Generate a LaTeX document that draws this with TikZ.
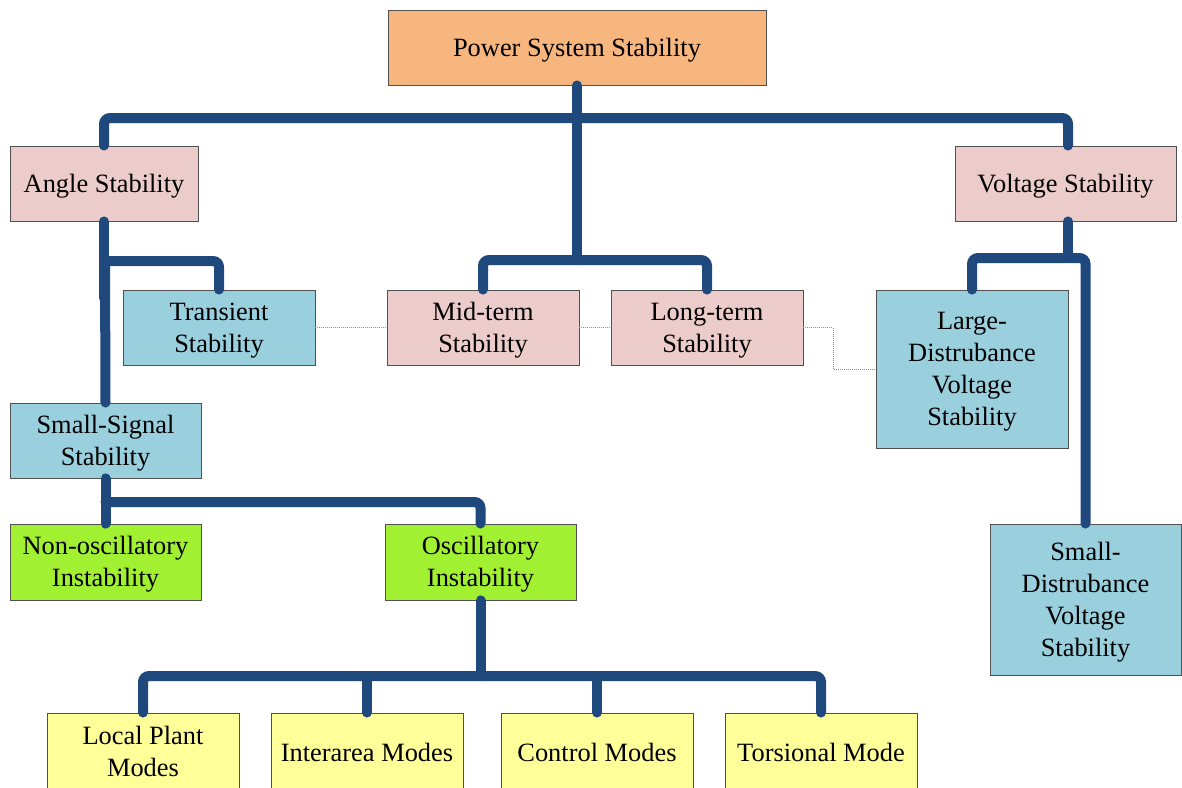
\documentclass[tikz,border=0pt]{standalone}
\usepackage{fontspec}
\setmainfont{Liberation Serif}
\definecolor{cOrange}{HTML}{F8B67F}
\definecolor{cPink}{HTML}{ECCCCB}
\definecolor{cBlue}{HTML}{9AD0DE}
\definecolor{cGreen}{HTML}{A2F032}
\definecolor{cYellow}{HTML}{FFFF99}
\definecolor{cLink}{HTML}{1F497D}
\definecolor{cEdge}{HTML}{505050}
% taller first line so stacked labels sit a little lower in their boxes
\newcommand{\firststrut}{\rule{0pt}{23.4pt}}
\begin{document}
\begin{tikzpicture}[x=1pt,y=-1pt,
  box/.style={draw=cEdge, line width=0.9pt, align=center, inner sep=0pt,
    font=\fontsize{26.4}{32}\selectfont,
    execute at begin node={\rule{0pt}{24.4pt}},
    execute at end node={\rule[-6pt]{0pt}{6pt}}},
  wide/.style={box, minimum width=192pt, minimum height=75pt},
  link/.style={draw=cLink, line width=10pt, line cap=round, rounded corners=6pt},
  dots/.style={draw=black!45, line width=0.8pt, dash pattern=on 1pt off 1pt}]
\clip (0,0) rectangle (1182,787);
\fill[white] (0,0) rectangle (1182,787);

% boxes
\node[box, fill=cOrange, minimum width=378pt, minimum height=75pt] (pss) at (577,47.5) {Power System Stability};
\node[box, fill=cPink, minimum width=188pt, minimum height=75pt] (ang) at (104,183.5) {Angle Stability};
\node[box, fill=cPink, minimum width=221pt, minimum height=75pt] (vol) at (1065.5,183.5) {Voltage Stability};
\node[wide, fill=cBlue] (tr) at (219,327.5) {\firststrut Transient\\Stability};
\node[wide, fill=cPink] (mid) at (483,327.5) {\firststrut Mid-term\\Stability};
\node[wide, fill=cPink] (lt) at (707,327.5) {\firststrut Long-term\\Stability};
\node[wide, fill=cBlue, minimum height=158pt] (ld) at (972,369) {\firststrut Large-\\Distrubance\\Voltage\\Stability};
\node[box, fill=cBlue, minimum width=191pt, minimum height=75pt] (ss) at (105.5,440.5) {\firststrut Small-Signal\\Stability};
\node[box, fill=cGreen, minimum width=191pt, minimum height=76pt] (no) at (105.5,562) {\firststrut Non-oscillatory\\Instability};
\node[box, fill=cGreen, minimum width=191pt, minimum height=76pt] (osc) at (480.5,562) {\firststrut Oscillatory\\Instability};
\node[box, fill=cBlue, minimum width=191pt, minimum height=151pt] (sd) at (1085.5,599.5) {\firststrut Small-\\Distrubance\\Voltage\\Stability};
\node[wide, fill=cYellow, minimum height=78pt] (lp) at (143,752) {\firststrut Local Plant\\Modes};
\node[wide, fill=cYellow, minimum height=78pt] (ia) at (367,752) {Interarea Modes};
\node[wide, fill=cYellow, minimum height=78pt] (cm) at (597,752) {Control Modes};
\node[wide, fill=cYellow, minimum height=78pt] (tm) at (821,752) {Torsional Mode};

% junction points of the tree
\coordinate (j0) at (577,118);
\coordinate (j1) at (577,260);
\coordinate (a1) at (104,298);
\coordinate (j2) at (105,261);
\coordinate (j3) at (1068,258);
\coordinate (j4) at (105.5,502);
\coordinate (j5) at (480.5,676);

% thin dotted links between time-frame boxes
\draw[dots] (tr.east) -- (mid.west);
\draw[dots] (mid.east) -- (lt.west);
\draw[dots] (lt.east) -- ++(30,0) |- (ld.west);

% tree connectors
\draw[link] (pss.south) -- (j1);
\draw[link] (ang.north) |- (j0) -| ([xshift=2.5pt]vol.north);
\draw[link] (mid.north) |- (j1) -| (lt.north);
\draw[link] (ang.south) -- (a1);
\draw[link] (j2) -| (tr.north);
\draw[link] (j2) -- (ss.north);
\draw[link] ([xshift=2.5pt]vol.south) -- (j3);
\draw[link] (ld.north) |- (j3) -| (sd.north);
\draw[link] (ss.south) -- (no.north);
\draw[link] (j4) -| (osc.north);
\draw[link] (osc.south) -- (j5);
\draw[link] (lp.north) |- (j5) -| (tm.north);
\draw[link] (ia.north) -- (ia.north |- j5);
\draw[link] (cm.north) -- (cm.north |- j5);
\end{tikzpicture}
\end{document}
